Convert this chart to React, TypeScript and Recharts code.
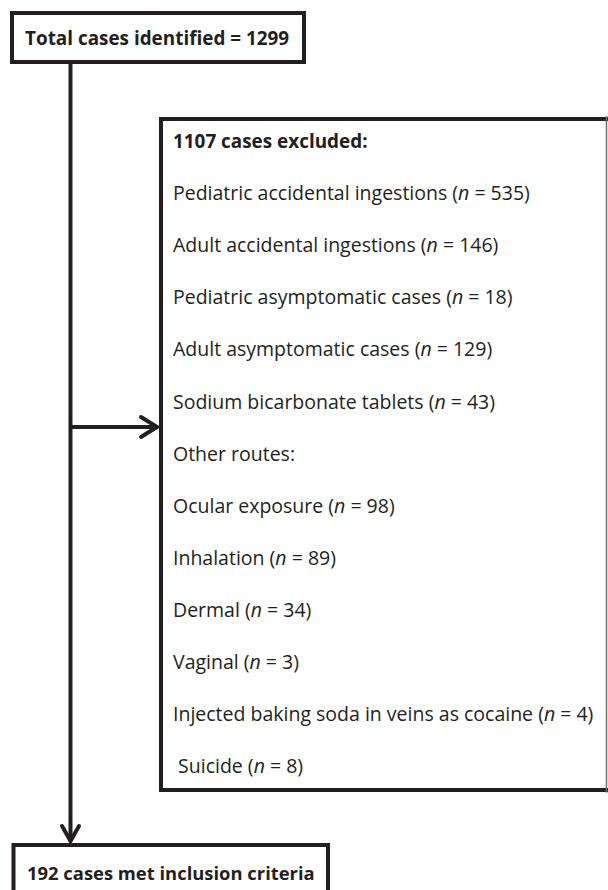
import React from "react";
import { ScatterChart, Scatter, XAxis, YAxis, ReferenceArea, ReferenceLine } from "recharts";

// ---- data ----
const totalIdentified = 1299;
const totalExcluded = 1107;
const totalIncluded = 192;

const exclusionReasons: string[] = [
  "Pediatric accidental ingestions",
  "Adult accidental ingestions",
  "Pediatric asymptomatic cases",
  "Adult asymptomatic cases",
  "Sodium bicarbonate tablets",
  "Other routes:",
  "Ocular exposure",
  "Inhalation",
  "Dermal",
  "Vaginal",
  "Injected baking soda in veins as cocaine",
  "\u00a0Suicide",
];
const exclusionCounts: (number | null)[] = [535, 146, 18, 129, 43, null, 98, 89, 34, 3, 4, 8];

// ---- layout ----
const W = 608;
const H = 890;
const INK = "#231f20";
const FONT = "'Open Sans', 'Noto Sans', sans-serif";
const FS = 19.5;
const FS_BOLD = 18.9;
const FS_BOTTOM = 18.4;
const SW = 4;

const rowX = 173;
const firstRowY = 148;
const rowGap = 52.1;

type Row = { x: number; y: number; label: string; n: number | null; bold: boolean; size: number };

const rows: Row[] = [
  { x: rowX, y: firstRowY, label: `${totalExcluded} cases excluded:`, n: null, bold: true, size: FS_BOLD },
  ...exclusionReasons.map((label, i) => ({
    x: rowX,
    y: firstRowY + (i + 1) * rowGap,
    label,
    n: exclusionCounts[i],
    bold: false,
    size: FS,
  })),
  { x: 25, y: 45, label: `Total cases identified = ${totalIdentified}`, n: null, bold: true, size: FS_BOLD },
  { x: 27, y: 880, label: `${totalIncluded} cases met inclusion criteria`, n: null, bold: true, size: FS_BOTTOM },
];

const RowText = (props: any) => {
  const { cx, cy, payload } = props;
  if (cx == null || cy == null) return null;
  return (
    <text
      x={cx}
      y={cy}
      fill={INK}
      fontFamily={FONT}
      fontSize={payload.size}
      fontWeight={payload.bold ? 700 : 400}
    >
      {payload.label}
      {payload.n != null ? (
        <>
          {" ("}
          <tspan fontStyle="italic">n</tspan>
          {` = ${payload.n})`}
        </>
      ) : null}
    </text>
  );
};

const seg = (x1: number, y1: number, x2: number, y2: number, key: string, w = SW, color = INK) => (
  <ReferenceLine
    key={key}
    segment={[{ x: x1, y: y1 }, { x: x2, y: y2 }]}
    stroke={color}
    strokeWidth={w}
    strokeLinecap="square"
    ifOverflow="visible"
  />
);

export default function App() {
  return (
    <div style={{ position: "absolute", left: 0, top: 0, width: W, height: H, background: "#fff" }}>
      <ScatterChart width={W} height={H} margin={{ top: 0, right: 0, bottom: 0, left: 0 }}>
        <XAxis type="number" dataKey="x" domain={[0, W]} allowDataOverflow hide />
        <YAxis type="number" dataKey="y" domain={[0, H]} reversed allowDataOverflow hide />

        {/* top box */}
        <ReferenceArea x1={12} x2={304} y1={13} y2={62} fill="#fff" fillOpacity={1} stroke={INK} strokeWidth={SW} ifOverflow="visible" />

        {/* exclusion box */}
        <ReferenceArea x1={161} x2={607} y1={119} y2={790} fill="#fff" fillOpacity={1} stroke="none" ifOverflow="visible" />
        {seg(161, 119, 606, 119, "bt")}
        {seg(161, 119, 161, 790, "bl")}
        {seg(161, 790, 606, 790, "bb")}
        {seg(606.5, 117, 606.5, 792, "br", 1.5, "#6d6d6d")}

        {/* bottom box */}
        <ReferenceArea x1={13.5} x2={328} y1={845} y2={900} fill="#fff" fillOpacity={1} stroke={INK} strokeWidth={SW} ifOverflow="visible" />

        {/* main vertical flow line */}
        <ReferenceLine segment={[{ x: 70.5, y: 64 }, { x: 70.5, y: 840 }]} stroke={INK} strokeWidth={SW} ifOverflow="visible" />
        <ReferenceLine segment={[{ x: 62, y: 826 }, { x: 70.5, y: 841 }]} stroke={INK} strokeWidth={SW} strokeLinecap="round" ifOverflow="visible" />
        <ReferenceLine segment={[{ x: 79, y: 826 }, { x: 70.5, y: 841 }]} stroke={INK} strokeWidth={SW} strokeLinecap="round" ifOverflow="visible" />

        {/* side arrow */}
        <ReferenceLine segment={[{ x: 70.5, y: 427 }, { x: 156, y: 427 }]} stroke={INK} strokeWidth={SW} ifOverflow="visible" />
        <ReferenceLine segment={[{ x: 141, y: 417 }, { x: 157, y: 427 }]} stroke={INK} strokeWidth={SW} strokeLinecap="round" ifOverflow="visible" />
        <ReferenceLine segment={[{ x: 141, y: 437 }, { x: 157, y: 427 }]} stroke={INK} strokeWidth={SW} strokeLinecap="round" ifOverflow="visible" />

        <Scatter data={rows} shape={RowText} isAnimationActive={false} />
      </ScatterChart>
    </div>
  );
}
